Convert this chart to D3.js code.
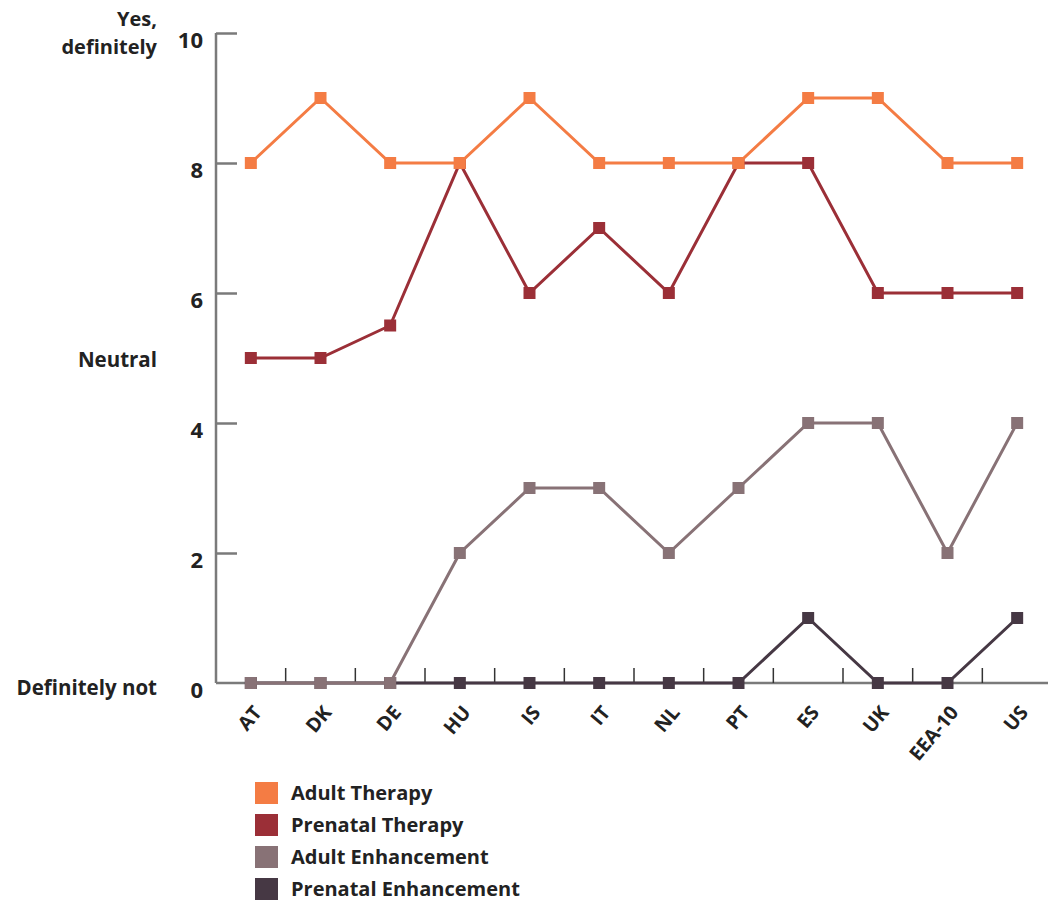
<!DOCTYPE html>
<html><head><meta charset="utf-8">
<script src="https://cdn.jsdelivr.net/npm/d3@7"></script>
<style>body{margin:0;background:#fff}svg{display:block}text{font-family:"Open Sans",sans-serif;font-weight:bold;fill:#222}</style>
</head><body><svg id="c" width="1048" height="902"></svg>
<script>
const categories = ["AT","DK","DE","HU","IS","IT","NL","PT","ES","UK","EEA-10","US"];
const adultTherapy = [8,9,8,8,9,8,8,8,9,9,8,8];
const prenatalTherapy = [5,5,5.5,8,6,7,6,8,8,6,6,6];
const adultEnhancement = [0,0,0,2,3,3,2,3,4,4,2,4];
const prenatalEnhancement = [0,0,0,0,0,0,0,0,1,0,0,1];
const yTicks = [0,2,4,6,8,10];
const seriesNames = ["Adult Therapy","Prenatal Therapy","Adult Enhancement","Prenatal Enhancement"];
const seriesColors = ["#f47c44","#9b2f37","#887276","#463844"];
const seriesValues = [adultTherapy, prenatalTherapy, adultEnhancement, prenatalEnhancement];

const svg = d3.select("#c");
const mLeft = 216, mRight = 1052, mTop = 33, mBottom = 683;
const x = d3.scaleBand().domain(categories).range([mLeft, mRight]);
const y = d3.scaleLinear().domain([0,10]).range([mBottom, mTop]);
const axisColor = "#7a7a7a";

// y axis (ticks pointing inward)
const yAxis = svg.append("g").attr("transform",`translate(${mLeft},0)`)
  .call(d3.axisRight(y).tickValues(yTicks.filter(d=>d>0)).tickSize(21).tickFormat(""));
yAxis.select(".domain").remove();
yAxis.selectAll("line").attr("stroke",axisColor).attr("stroke-width",2.5);
svg.append("line").attr("x1",mLeft).attr("x2",mLeft).attr("y1",y(10)).attr("y2",mBottom).attr("stroke",axisColor).attr("stroke-width",2.5);
svg.append("line").attr("x1",mLeft).attr("x2",1048).attr("y1",mBottom).attr("y2",mBottom).attr("stroke",axisColor).attr("stroke-width",2.5);
yTicks.forEach(t=>{
  svg.append("text").attr("x",203).attr("y",y(t)+7).attr("dy","0.35em").attr("text-anchor","end").style("font-size","22px").text(t);
});
// category boundary ticks
categories.slice(1).forEach(c=>{
  svg.append("line").attr("x1",x(c)).attr("x2",x(c)).attr("y1",mBottom).attr("y2",mBottom-15).attr("stroke","#333").attr("stroke-width",1.5);
});
// y descriptive labels
const yl = svg.append("g").style("font-size","20px");
yl.append("text").attr("x",157).attr("y",26).attr("text-anchor","end").text("Yes,");
yl.append("text").attr("x",157).attr("y",54).attr("text-anchor","end").text("definitely");
yl.append("text").attr("x",157).attr("y",y(5)+2).attr("dy","0.35em").attr("text-anchor","end").style("font-size","20.5px").text("Neutral");
yl.append("text").attr("x",157).attr("y",y(0)+5).attr("dy","0.35em").attr("text-anchor","end").style("font-size","20.5px").text("Definitely not");

// x labels
categories.forEach(c=>{
  const cx = x(c)+x.bandwidth()/2+12, cy = mBottom+30;
  svg.append("text").attr("transform",`translate(${cx},${cy}) rotate(-50)`).attr("text-anchor","end").style("font-size","19.5px").text(c);
});

// series (draw bottom-most first)
const line = d3.line().x((d,i)=>x(categories[i])+x.bandwidth()/2).y(d=>y(d));
[3,2,1,0].forEach(s=>{
  const g = svg.append("g");
  g.append("path").attr("d",line(seriesValues[s])).attr("fill","none").attr("stroke",seriesColors[s]).attr("stroke-width",3);
  g.selectAll("rect").data(seriesValues[s]).join("rect")
    .attr("x",(d,i)=>x(categories[i])+x.bandwidth()/2-6).attr("y",d=>y(d)-6)
    .attr("width",12).attr("height",12).attr("fill",seriesColors[s]);
});

// legend
const lg = svg.append("g");
seriesNames.forEach((n,i)=>{
  const yy = 782 + i*32;
  lg.append("rect").attr("x",255).attr("y",yy).attr("width",23).attr("height",22).attr("fill",seriesColors[i]);
  lg.append("text").attr("x",291).attr("y",yy+18).style("font-size","20px").text(n);
});
</script></body></html>
